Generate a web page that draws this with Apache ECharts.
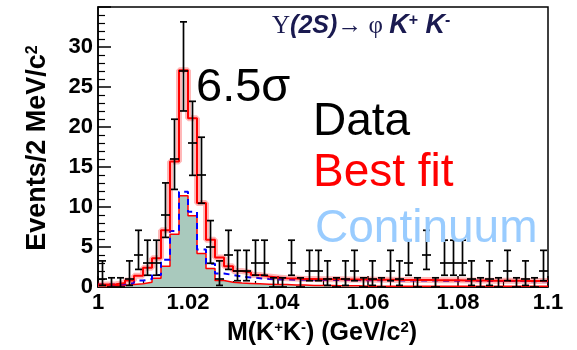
<!DOCTYPE html>
<html><head><meta charset="utf-8">
<script src="https://cdn.jsdelivr.net/npm/echarts/dist/echarts.min.js"></script>
<style>html,body{margin:0;padding:0;background:#fff}#c{width:577px;height:350px}</style>
</head><body><div id="c"></div>
<script>
// ---- data (bins of 2 MeV from 1.000 to 1.100 GeV) ----
const xMin = 1.0, xMax = 1.1, binWidth = 0.002;
const counts = [1,0,0,1,4,3,3,9,16,27, 18,14,5,1,4,2,2,3,3,0, 0,3,0,2,2,1,0,1,2,0, 1,0,2,1,3,0,4,0,3,3, 3,1,0,1,0,2,0,1,0,2];
const bestFit = [0.3,0.35,0.5,0.8,1.4,2.4,3.6,7.1,15.7,27.1, 21.1,10.5,5.9,3.7,2.6,2.0,1.8,1.5,1.3,1.2, 1.1,1.05,1.0,1.0,0.98,0.97,0.96,0.95,0.94,0.93, 0.92,0.91,0.9,0.89,0.88,0.87,0.86,0.85,0.84,0.83, 0.82,0.81,0.8,0.79,0.78,0.77,0.77,0.76,0.76,0.75];
const continuum = [0.3,0.3,0.35,0.5,0.8,1.0,1.5,3.4,7.0,11.9, 9.4,4.7,2.9,1.7,1.5,1.3,1.2,1.1,1.0,0.95, 0.95,0.9,0.9,0.9,0.88,0.88,0.87,0.86,0.86,0.85, 0.84,0.84,0.83,0.82,0.82,0.81,0.8,0.8,0.79,0.78, 0.78,0.77,0.76,0.76,0.75,0.74,0.74,0.73,0.72,0.72];
const phiComponent = [0.15,0.15,0.2,0.3,0.4,0.6,1.1,2.6,6.6,11.4, 8.9,4.2,2.3,0.8,0.6,0.5,0.45,0.4,0.35,0.3, 0.3,0.25,0.25,0.2,0.2,0.2,0.15,0.15,0.15,0.1, 0.1,0.1,0.1,0.1,0.1,0.1,0.1,0.1,0.1,0.1, 0.1,0.1,0.1,0.1,0.1,0.1,0.1,0.1,0.1,0.1];
const xTicks = [1, 1.02, 1.04, 1.06, 1.08, 1.1];
const yTicks = [0, 5, 10, 15, 20, 25, 30];

const FONT = 'Liberation Sans, Arial, sans-serif';
function stepData(arr){
  const d = [];
  arr.forEach((v,i)=>{
    d.push([+(xMin + i*binWidth).toFixed(4), v]);
    d.push([+(xMin + (i+1)*binWidth).toFixed(4), v]);
  });
  return d;
}
function poissonErr(n){
  if (n === 0) return [0, 1.15];
  return [n - Math.sqrt(n) + 0.2, n + Math.sqrt(n+1) + 0.85];
}
const dataPts = counts.map((n,i)=>{
  const e = poissonErr(n);
  return [+(xMin + (i+0.5)*binWidth).toFixed(4), n, e[0], e[1]];
});

const chart = echarts.init(document.getElementById('c'), null, {renderer:'canvas'});
const axisLabelStyle = {fontFamily: FONT, fontWeight:'bold', fontSize:22, color:'#000'};
const txt = (x,y,text,size,color)=>({type:'text', x:x, y:y, z:10, style:{text:text, fontFamily:FONT, fontSize:size, fill:color, align:'left', verticalAlign:'middle', textAlign:'left', textVerticalAlign:'middle'}});
chart.setOption({
  animation:false,
  backgroundColor:'#fff',
  grid:{left:98, right:29, top:7, bottom:63, show:true, borderColor:'#000', borderWidth:1.5, backgroundColor:'transparent'},
  xAxis:{
    type:'value', min:xMin, max:xMax, interval:0.02,
    axisLine:{show:true, onZero:false, lineStyle:{color:'#000', width:1.5}},
    axisTick:{show:true, inside:true, length:11, lineStyle:{color:'#000', width:1.5}},
    minorTick:{show:true, splitNumber:4, length:6, lineStyle:{color:'#000', width:1.2}},
    splitLine:{show:false},
    axisLabel:Object.assign({margin:5, formatter:v=>{
      const r = parseFloat(v.toFixed(3));
      return xTicks.some(t=>Math.abs(t-r)<1e-6) ? String(r) : '';
    }, showMaxLabel:true, showMinLabel:true}, axisLabelStyle)
  },
  yAxis:{
    type:'value', min:0, max:35, interval:5,
    axisLine:{show:true, lineStyle:{color:'#000', width:1.5}},
    axisTick:{show:true, inside:true, length:13, lineStyle:{color:'#000', width:1.5}},
    minorTick:{show:true, splitNumber:5, length:7, lineStyle:{color:'#000', width:1.2}},
    splitLine:{show:false},
    axisLabel:Object.assign({margin:5, formatter:v=> yTicks.indexOf(v)>=0 ? String(v) : ''}, axisLabelStyle)
  },
  series:[
    {type:'line', data:stepData(phiComponent), showSymbol:false, z:1,
     lineStyle:{color:'#ff0000', width:1.5}, areaStyle:{color:'#a9c9bd', opacity:1}},
    {type:'line', data:stepData(continuum), showSymbol:false, z:2,
     lineStyle:{color:'#0000ff', width:2, type:[6,5]}},
    {type:'line', data:stepData(bestFit), showSymbol:false, z:3,
     lineStyle:{color:'rgba(255,0,0,0.28)', width:6}},
    {type:'line', data:stepData(bestFit), showSymbol:false, z:4,
     lineStyle:{color:'#ff0000', width:2}},
    {type:'custom', z:5, data:dataPts,
     renderItem:(params, api)=>{
       const x = api.value(0), n = api.value(1), lo = api.value(2), hi = api.value(3);
       const pL = api.coord([x - binWidth/2, n]), pR = api.coord([x + binWidth/2, n]);
       const pLo = api.coord([x, lo]), pHi = api.coord([x, hi]);
       const cap = 3.5;
       const st = {stroke:'#000', lineWidth:1.7};
       const ch = [
         {type:'line', shape:{x1:pL[0], y1:pL[1], x2:pR[0], y2:pR[1]}, style:st},
         {type:'line', shape:{x1:pLo[0], y1:pLo[1], x2:pHi[0], y2:pHi[1]}, style:st},
         {type:'line', shape:{x1:pHi[0]-cap, y1:pHi[1], x2:pHi[0]+cap, y2:pHi[1]}, style:st}
       ];
       if (n > 0) ch.push({type:'line', shape:{x1:pLo[0]-cap, y1:pLo[1], x2:pLo[0]+cap, y2:pLo[1]}, style:st});
       return {type:'group', children:ch};
     }}
  ],
  graphic:[
    {type:'text', x:272, y:26, z:10, style:{
      text:'{s|Υ}{b|(2S)}{s|→ φ }{k|K}{p|+}{k| K}{p|-}',
      align:'left', verticalAlign:'middle', textAlign:'left', textVerticalAlign:'middle',
      rich:{
        s:{fontFamily:'Liberation Serif, serif', fontSize:25, fill:'#1a1a50', color:'#1a1a50'},
        b:{fontFamily:FONT, fontSize:25, fontWeight:'bold', fontStyle:'italic', fill:'#1a1a50', color:'#1a1a50'},
        k:{fontFamily:FONT, fontSize:27, fontWeight:'bold', fontStyle:'italic', fill:'#1a1a50', color:'#1a1a50'},
        p:{fontFamily:FONT, fontSize:16, fontWeight:'bold', fill:'#1a1a50', color:'#1a1a50', verticalAlign:'top'}
      }}},
    txt(196, 88, '6.5σ', 47, '#000'),
    txt(313, 122, 'Data', 46, '#000'),
    txt(313, 173, 'Best fit', 46, '#ff0000'),
    txt(315, 229, 'Continuum', 46, '#99ccff'),
    {type:'text', x:38, y:148, rotation:Math.PI/2, z:10, style:{
      text:'{t|Events/2 MeV/c}{p|2}', align:'center', verticalAlign:'middle', textAlign:'center', textVerticalAlign:'middle',
      rich:{ t:{fontFamily:FONT, fontSize:27, fontWeight:'bold', fill:'#000', color:'#000'},
             p:{fontFamily:FONT, fontSize:16, fontWeight:'bold', fill:'#000', color:'#000', verticalAlign:'top'} }}},
    {type:'text', x:322, y:333, z:10, style:{
      text:'{t|M(K}{p|+}{t|K}{p|-}{t|) (GeV/c}{p|2}{t|)}', align:'center', verticalAlign:'middle', textAlign:'center', textVerticalAlign:'middle',
      rich:{ t:{fontFamily:FONT, fontSize:25, fontWeight:'bold', fill:'#000', color:'#000'},
             p:{fontFamily:FONT, fontSize:15, fontWeight:'bold', fill:'#000', color:'#000', verticalAlign:'top'} }}}
  ]
});
</script></body></html>
